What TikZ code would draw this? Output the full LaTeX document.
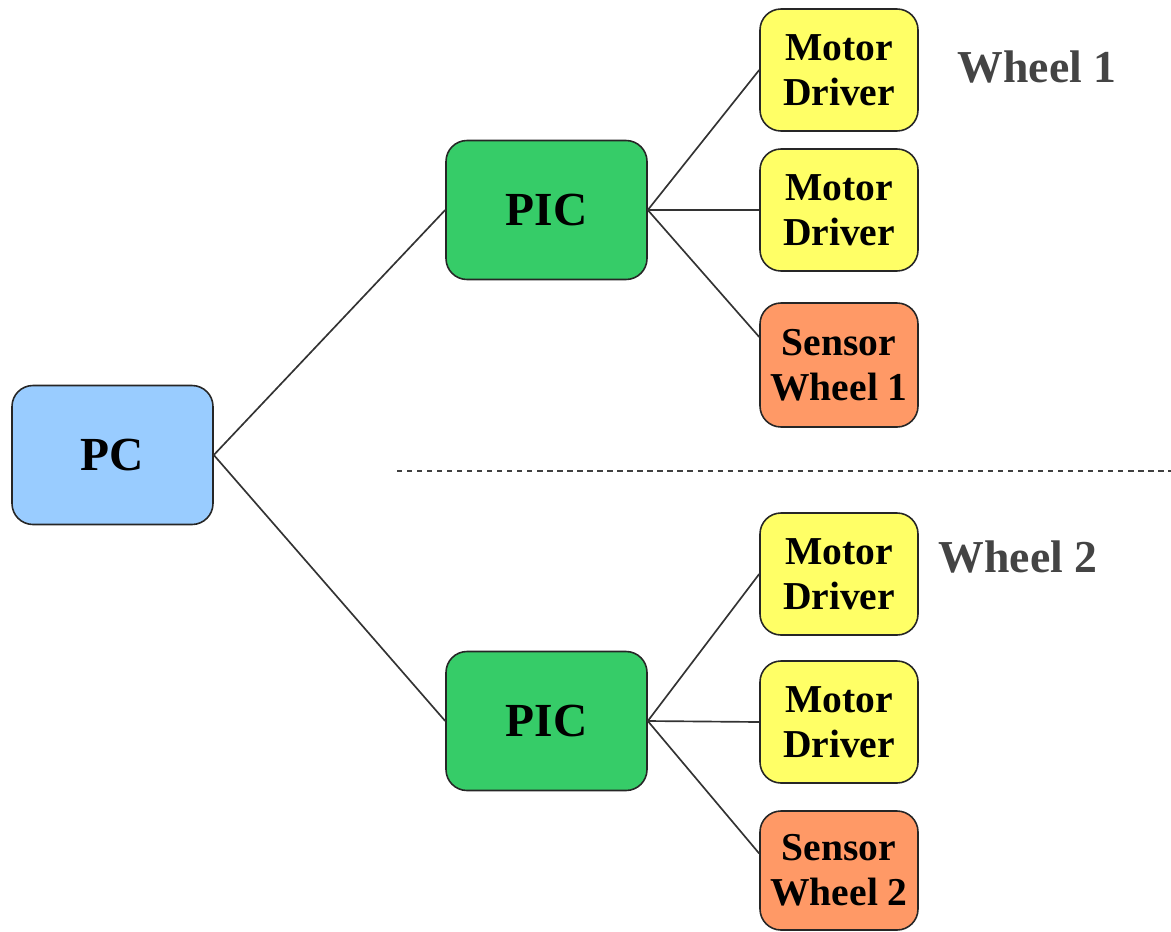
\documentclass[tikz,border=0pt]{standalone}
\usepackage{fontspec}
\setmainfont{Liberation Serif}
\usepackage{xcolor}
\usetikzlibrary{calc}

\definecolor{pcblue}{HTML}{99CCFF}
\definecolor{picgreen}{HTML}{36CC68}
\definecolor{drvyellow}{HTML}{FFFF66}
\definecolor{sensorange}{HTML}{FF9966}
\definecolor{wheelgray}{HTML}{444444}

\begin{document}
\begin{tikzpicture}[
  box/.style={draw=black!85,line width=0.9pt,rounded corners=0.42cm,align=center,
    inner sep=0pt,font=\bfseries},
  bigbox/.style={box,minimum width=4.02cm,minimum height=2.78cm,font=\fontsize{27}{30}\selectfont\bfseries},
  smallbox/.style={box,minimum width=3.16cm,minimum height=2.44cm,font=\fontsize{22.5}{25.6}\selectfont\bfseries},
  link/.style={draw=black!80,line width=0.95pt},
  wheel/.style={text=wheelgray,font=\fontsize{26}{28}\selectfont\bfseries}]
  \useasboundingbox (0,0) rectangle (23.42,-18.62);

  \node[bigbox,fill=pcblue] (pc) at (2.25,-9.10) {PC};
  \node[bigbox,fill=picgreen] (pic1) at (10.93,-4.20) {PIC};
  \node[bigbox,fill=picgreen] (pic2) at (10.93,-14.42) {PIC};

  \node[smallbox,fill=drvyellow] (drv1) at (16.78,-1.40) {Motor\\Driver};
  \node[smallbox,fill=drvyellow] (drv2) at (16.78,-4.20) {Motor\\Driver};
  \node[smallbox,fill=sensorange,minimum height=2.48cm] (sens1) at (16.78,-7.30) {Sensor\\Wheel 1};
  \node[smallbox,fill=drvyellow] (drv3) at (16.78,-11.48) {Motor\\Driver};
  \node[smallbox,fill=drvyellow] (drv4) at (16.78,-14.44) {Motor\\Driver};
  \node[smallbox,fill=sensorange,minimum height=2.38cm] (sens2) at (16.78,-17.41) {Sensor\\Wheel 2};

  \node[wheel] (w1) at (20.74,-1.34) {Wheel 1};
  \node[wheel] (w2) at (20.36,-11.14) {Wheel 2};

  % separator
  \coordinate (sepl) at (7.94,-9.42);
  \coordinate (sepr) at (23.42,-9.42);
  \draw[black!75,line width=0.8pt,dash pattern=on 3pt off 2.7pt] (sepl) -- (sepr);

  % links
  \draw[link] (pc.east) -- (pic1.west);
  \draw[link] (pc.east) -- (pic2.west);
  \draw[link] (pic1.east) -- (drv1.west);
  \draw[link] (pic1.east) -- (drv2.west);
  \draw[link] (pic1.east) -- ([yshift=0.56cm]sens1.west);
  \draw[link] (pic2.east) -- (drv3.west);
  \draw[link] (pic2.east) -- (drv4.west);
  \draw[link] (pic2.east) -- ([yshift=0.34cm]sens2.west);
\end{tikzpicture}
\end{document}
